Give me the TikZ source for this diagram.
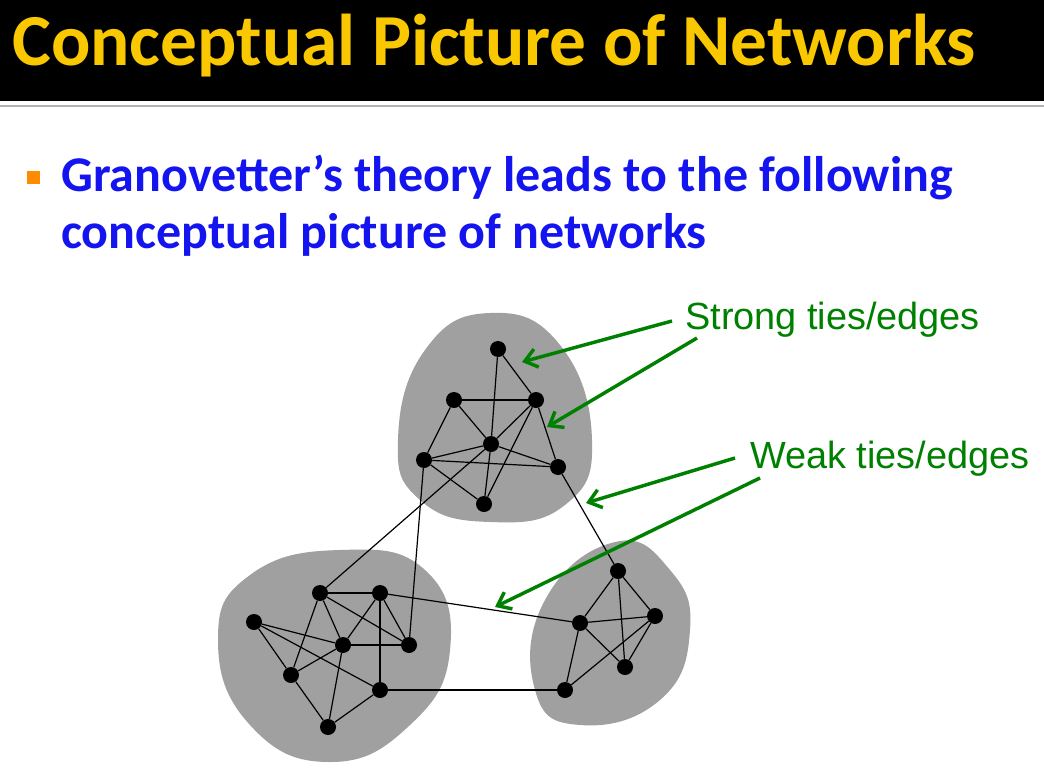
\documentclass[tikz,border=0pt]{standalone}
\usepackage{fontspec}
\setmainfont{Carlito}
\newfontfamily\arial{Liberation Sans}
\usetikzlibrary{arrows.meta}
\definecolor{blobgray}{RGB}{160,160,160}
\definecolor{tgreen}{RGB}{0,128,0}
\definecolor{tblue}{RGB}{20,20,240}
\definecolor{tgold}{RGB}{250,200,0}
\begin{document}
\begin{tikzpicture}[x=0.75pt,y=-0.75pt,
  v/.style={circle,fill=black,inner sep=0pt,minimum size=12pt},
  e/.style={line width=0.9pt},
  blob/.style={fill=blobgray},
  arr/.style={draw=tgreen,line width=2.6pt,-{Straight Barb[length=9pt,width=14pt]}},
  lab/.style={text=tgreen,font=\arial\fontsize{28.4}{34}\selectfont,anchor=west,inner sep=0pt}]
\useasboundingbox (0,0) rectangle (1044,770);
\fill[black] (0,0) rectangle (1044,101);
\draw[gray!60,line width=1pt] (0,106) -- (1044,106);
\node[anchor=west,text=tgold,font=\bfseries\fontsize{55}{66}\selectfont,inner sep=0pt] (title) at (12,46) {Conceptual Picture of Networks};
\fill[orange!90!yellow] (27,171) rectangle (40,184);
\node[anchor=north west,text=tblue,font=\bfseries\fontsize{37.5}{43}\selectfont,inner sep=0pt,align=left] (bul) at (61,155) {Granovetter’s theory leads to the following\\conceptual picture of networks};
% blobs
\fill[blob] plot[smooth cycle,tension=0.8] coordinates {(490,313) (560,345) (592,440) (565,505) (490,522) (420,500) (398,440) (425,350)};
\fill[blob] plot[smooth cycle,tension=0.8] coordinates {(340,550) (425,570) (450,650) (410,725) (330,762) (250,725) (218,640) (250,575)};
\fill[blob] plot[smooth cycle,tension=0.8] coordinates {(615,542) (670,570) (690,630) (660,700) (580,725) (535,690) (545,600)};
% top cluster
\node[v] (a) at (498,349) {};
\node[v] (b) at (454,400) {};
\node[v] (c) at (536,400) {};
\node[v] (d) at (491,444) {};
\node[v] (ee) at (424,460) {};
\node[v] (f) at (558,467) {};
\node[v] (g) at (484,504) {};
% left cluster
\node[v] (p1) at (320,593) {};
\node[v] (p2) at (380,593) {};
\node[v] (p3) at (254,622) {};
\node[v] (p4) at (343,645) {};
\node[v] (p5) at (409,645) {};
\node[v] (p6) at (291,675) {};
\node[v] (p7) at (380,690) {};
\node[v] (p8) at (328,727) {};
% right cluster
\node[v] (r1) at (618,571) {};
\node[v] (r2) at (580,623) {};
\node[v] (r3) at (655,616) {};
\node[v] (r4) at (625,667) {};
\node[v] (r5) at (565,690) {};
\foreach \u/\w in {a/d,a/c,b/c,b/ee,b/d,c/d,c/g,c/f,d/ee,d/f,d/g,ee/f,ee/g,
  p1/p2,p1/p4,p1/p5,p1/p6,p2/p4,p2/p5,p2/p7,p3/p4,p3/p7,p3/p6,p4/p5,p4/p6,p4/p8,p6/p8,p7/p8,
  r1/r2,r1/r3,r1/r4,r2/r3,r2/r4,r2/r5,r3/r4,r3/r5,
  f/r1,ee/p5,p1/d,p2/r2,p7/r5}
  \draw[e] (\u) -- (\w);
% labels and arrows
\node[lab] (s) at (685,320) {Strong ties/edges};
\node[lab] (w) at (750,459) {Weak ties/edges};
\coordinate (s1) at (672,321); \coordinate (s2) at (697,338);
\coordinate (w1) at (735,458); \coordinate (w2) at (760,478);
\coordinate (ts1) at (522,362); \coordinate (ts2) at (547,427);
\coordinate (tw1) at (586,503); \coordinate (tw2) at (495,607);
\draw[arr] (s1) -- (ts1);
\draw[arr] (s2) -- (ts2);
\draw[arr] (w1) -- (tw1);
\draw[arr] (w2) -- (tw2);
\end{tikzpicture}
\end{document}
